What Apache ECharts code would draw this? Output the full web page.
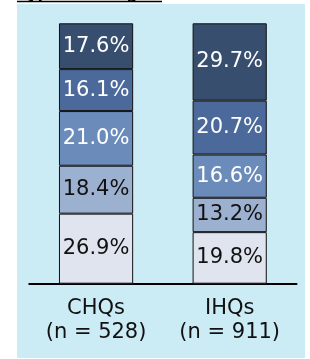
<!DOCTYPE html>
<html><head><meta charset="utf-8">
<script src="https://cdn.jsdelivr.net/npm/echarts@6/dist/echarts.min.js"></script>
<style>html,body{margin:0;padding:0;background:#fff}#c{width:310px;height:359px}</style>
</head><body><div id="c"></div>
<script>
var categories = ['CHQs', 'IHQs'];
var sampleSizes = [528, 911];
var seg1 = [26.9, 19.8];
var seg2 = [18.4, 13.2];
var seg3 = [21.0, 16.6];
var seg4 = [16.1, 20.7];
var seg5 = [17.6, 29.7];
var titleText = 'Type of design';

var segs = [seg1, seg2, seg3, seg4, seg5];
var colors = ['#DFE4EF', '#9CB0D0', '#6B8BBA', '#4B6A9B', '#374E6F'];
var labelColors = ['#111', '#111', '#fff', '#fff', '#fff'];
var FONT = '"DejaVu Sans", Verdana, sans-serif';

var chart = echarts.init(document.getElementById('c'), null, {renderer: 'canvas'});
chart.setOption({
  animation: false,
  backgroundColor: '#ffffff',
  graphic: [
    {type: 'rect', z: -10, shape: {x: 17, y: 4, width: 288, height: 354}, style: {fill: '#CBEBF5'}},
    {type: 'text', z: 5, x: 18, y: 3, style: {text: titleText, font: 'bold 16px ' + FONT, fill: '#000', verticalAlign: 'bottom'}},
    {type: 'line', z: 5, shape: {x1: 17, y1: 1.5, x2: 162, y2: 1.5}, style: {stroke: '#000', lineWidth: 1.5}}
  ],
  grid: {left: 29.25, right: 13.5, top: 23.3, bottom: 75.3, containLabel: false},
  xAxis: {
    type: 'category',
    data: categories.map(function (c, i) { return c + '\n(n = ' + sampleSizes[i] + ')'; }),
    axisLine: {show: true, lineStyle: {color: '#000', width: 2}},
    axisTick: {show: false},
    axisLabel: {color: '#111', fontFamily: FONT, fontSize: 21, lineHeight: 24, margin: 13, interval: 0}
  },
  yAxis: {type: 'value', min: 0, max: 100, show: false},
  series: segs.map(function (d, k) {
    return {
      type: 'bar', stack: 'a', data: d, barWidth: '55.5%',
      itemStyle: {color: colors[k], borderColor: '#111', borderWidth: 1},
      label: {
        show: true, position: 'inside', color: labelColors[k],
        fontFamily: FONT, fontSize: 21,
        formatter: function (p) { return p.value.toFixed(1) + '%'; }
      }
    };
  })
});
</script></body></html>
